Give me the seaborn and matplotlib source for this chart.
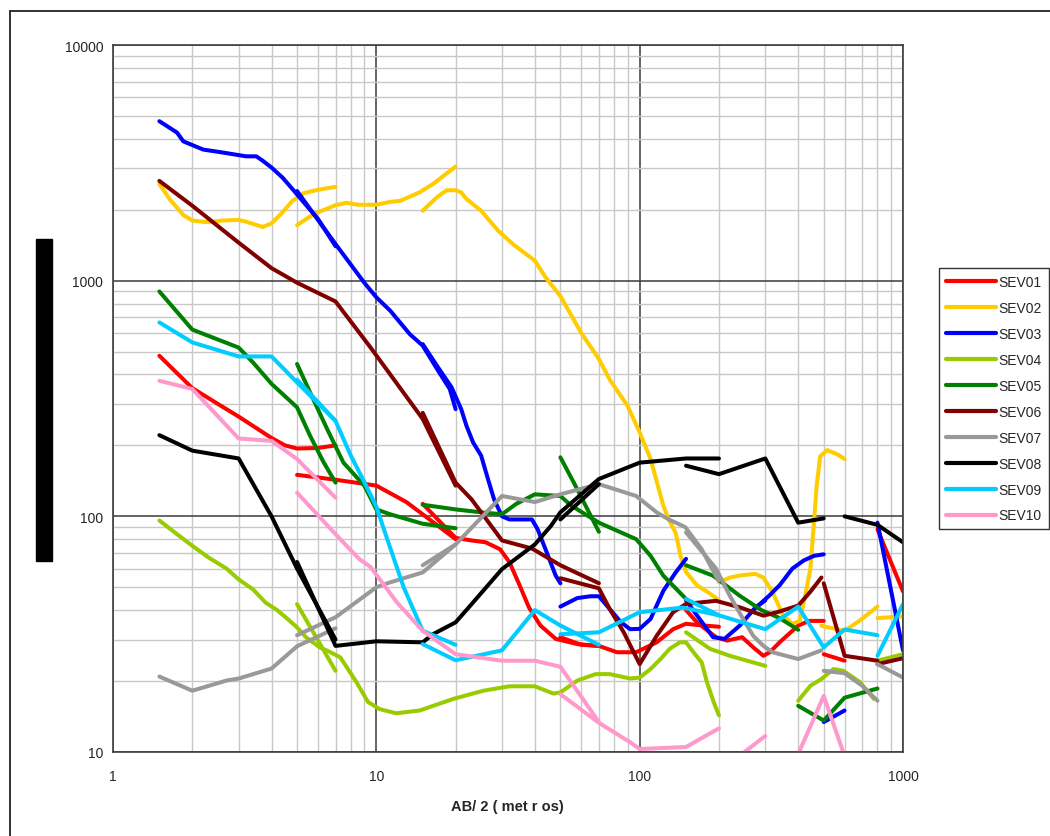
import matplotlib
matplotlib.use("Agg")
import matplotlib.pyplot as plt
from matplotlib.patches import Rectangle
from matplotlib.ticker import LogLocator, NullFormatter, FixedLocator, FixedFormatter
import seaborn as sns
import pandas as pd

# ---------------- data (AB/2 in metres, apparent resistivity) ----------------
SERIES = ["SEV01", "SEV02", "SEV03", "SEV04", "SEV05",
          "SEV06", "SEV07", "SEV08", "SEV09", "SEV10"]
COLORS = ["#FF0000", "#FFCC00", "#0000FF", "#99CC00", "#008000",
          "#800000", "#999999", "#000000", "#00CCFF", "#FF99CC"]

X_TICKS = [1, 10, 100, 1000]
X_TICKLABELS = ["1", "10", "100", "1000"]
Y_TICKS = [10, 100, 1000, 10000]
Y_TICKLABELS = ["10", "100", "1000", "10000"]
X_LABEL = "AB/ 2 ( met r os)"

SEV01 = [
    ([1.5, 2, 2.5, 3, 4, 4.5, 5, 6, 7], [480, 350, 300, 265, 215, 200, 194, 195, 200]),
    ([5, 7, 10, 13, 15, 20], [150, 143, 135, 115, 102, 80]),
    ([15, 20, 23, 26, 29.5, 32, 35, 38, 42, 48, 58, 70],
     [113, 81, 79, 77.6, 72.5, 64, 51, 41, 34.4, 30.2, 28.7, 28.2]),
    ([50, 60, 70, 82, 97, 116, 134, 150, 165, 200],
     [30.7, 28.5, 28.2, 26.5, 26.5, 29.2, 33.2, 35, 34.6, 34]),
    ([150, 165, 195, 215, 245, 270, 295, 312, 340, 400, 440, 500],
     [40, 35.5, 30.7, 29.7, 30.7, 27.8, 25.6, 26.5, 29.2, 34.4, 36, 36]),
    ([500, 600], [26, 24.4]),
    ([800, 1000], [88, 48]),
]
SEV02 = [
    ([1.5, 1.65, 1.85, 2, 2.3, 2.6, 3, 3.2, 3.7, 4, 4.4, 4.8, 5.3, 6, 7],
     [2570, 2200, 1900, 1800, 1770, 1800, 1810, 1780, 1690, 1750, 1950, 2180, 2350, 2430, 2500]),
    ([5, 5.8, 7, 7.7, 8.5, 10, 11.3, 12.3, 14.6, 16.4, 20],
     [1720, 1920, 2090, 2140, 2100, 2100, 2160, 2180, 2370, 2570, 3050]),
    ([15, 17, 18.5, 20, 21, 22, 25, 29, 33, 40, 44, 50, 60, 70, 77, 90, 100, 110,
      123, 129, 137, 143, 150, 165, 185, 200],
     [1980, 2260, 2420, 2420, 2370, 2220, 1980, 1630, 1430, 1215, 1030, 860, 600, 465,
      380, 294, 227, 175, 111, 97, 85, 68, 58, 51, 47, 44]),
    ([200, 220, 245, 275, 295, 320, 350, 380, 405, 420, 445, 460, 470, 485, 515, 565, 600],
     [52.5, 55, 56.3, 57, 55, 47.6, 38, 35, 36, 43, 60, 97, 135, 180, 191, 183, 175]),
    ([490, 600, 685, 800], [34.3, 32.7, 36.1, 41.4]),
    ([800, 1000], [37, 37.6]),
]
SEV03 = [
    ([1.5, 1.75, 1.85, 2.2, 2.6, 3.2, 3.5, 3.7, 4, 4.4, 4.8, 5.3, 6, 7],
     [4750, 4250, 3900, 3600, 3500, 3370, 3370, 3230, 3020, 2740, 2450, 2150, 1830, 1400]),
    ([5, 7, 9, 10, 11.3, 13.4, 15, 17, 19, 20],
     [2400, 1430, 980, 850, 745, 593, 530, 422, 347, 285]),
    ([15, 17, 19.3, 21, 22, 23.3, 25, 26.3, 28, 30, 32, 39, 41, 44, 48, 50],
     [538, 435, 353, 285, 242, 206, 181, 149, 118, 100, 97, 97, 88, 72, 56, 52]),
    ([50, 58, 65, 70, 77, 85, 92, 100, 110, 123, 137, 150],
     [41.4, 45, 45.8, 45.8, 40.4, 35.5, 33.2, 33.3, 36.7, 48.3, 57.8, 66]),
    ([150, 165, 190, 210, 240, 275, 300], [44, 38, 30.7, 30.2, 34.4, 41, 44]),
    ([270, 290, 310, 340, 380, 420, 460, 500], [40, 43, 46, 51, 60, 65, 68, 69]),
    ([500, 600], [13.4, 15]),
    ([800, 1000], [94, 27]),
]
SEV04 = [
    ([1.5, 1.75, 2, 2.3, 2.7, 3, 3.4, 3.8, 4.2, 4.6, 5, 5.4, 6.1, 6.7, 7.3, 8.4, 9.3, 10.3,
      11.9, 14.6, 19.6, 25.5, 32, 40, 47, 50, 58, 68, 77, 92, 100, 110, 120, 130, 142,
      150, 160, 172, 180, 191, 200],
     [96, 84, 75, 67, 60, 54, 49, 43, 40, 36.7, 33.8, 30.7, 27.8, 26.5, 25.2, 19.8, 16.3,
      15.2, 14.6, 15, 16.8, 18.2, 19, 19, 17.7, 17.9, 20.1, 21.4, 21.4, 20.5, 20.7, 22.5,
      24.8, 27.4, 29.2, 29.2, 26.5, 24, 19.8, 16.3, 14.3]),
    ([5, 7], [42.4, 22.1]),
    ([150, 185, 220, 300], [32.2, 27.4, 25.6, 23.2]),
    ([400, 445, 490, 545, 594, 686, 775], [16.5, 19.1, 20.4, 22.5, 22.1, 19.8, 16.8]),
    ([800, 1000], [24.4, 26]),
]
SEV05 = [
    ([1.5, 2, 3, 3.4, 4, 5, 5.6, 6.3, 7], [900, 620, 520, 450, 365, 290, 220, 170, 139]),
    ([5, 5.6, 6.5, 7.5, 9, 10, 11.3, 15, 20], [443, 336, 235, 169, 135, 107, 102, 93, 89]),
    ([15, 20, 25, 30, 34, 40, 50, 55, 70, 97, 110, 123, 150],
     [112, 107, 104, 102, 113, 124, 122, 111, 94, 80, 68, 56, 44.6]),
    ([50, 57, 70], [178, 135, 86]),
    ([150, 190, 240, 290, 340, 400], [62, 56, 46, 40, 37, 33]),
    ([400, 500, 600, 800], [15.7, 13.6, 17, 18.6]),
]
SEV06 = [
    ([1.5, 2, 3, 4, 5, 7, 9.5, 15, 20], [2650, 2080, 1450, 1130, 980, 816, 521, 259, 135]),
    ([15, 20, 23, 30, 39, 50, 70], [275, 139, 118, 79, 73, 62, 52]),
    ([50, 70, 77, 87, 100, 116, 134, 150, 195, 240, 295, 333, 400, 443, 490],
     [54.6, 49.5, 40.4, 32.2, 23.6, 31.1, 39.2, 42.5, 43.8, 41.1, 37.9, 39.2, 41.8, 47.6, 55]),
    ([500, 600, 800], [52, 25.6, 24.4]),
    ([800, 1000], [23.6, 25]),
]
SEV07 = [
    ([1.5, 2, 2.7, 3, 4, 5, 7], [20.9, 18.2, 20.1, 20.5, 22.6, 28.1, 33.5]),
    ([5, 7, 10, 11.3, 15, 20], [31.3, 37.3, 50, 52.5, 57.8, 76]),
    ([15, 20, 30, 40, 50, 70, 97, 116, 129, 149, 172, 199],
     [62, 76, 122, 115, 124, 137, 122, 104, 97, 90, 72.5, 53.4]),
    ([150, 195, 220, 247, 270, 295, 320, 400, 490],
     [85.5, 60, 46, 36.7, 31.1, 28.2, 26.5, 24.8, 27]),
    ([500, 600, 700, 800], [22.1, 21.6, 19.1, 16.5]),
    ([800, 1000], [23.6, 20.7]),
]
SEV08 = [
    ([1.5, 2, 3, 4, 5, 7], [221, 190, 176, 100, 60, 30]),
    ([5, 7, 10, 15], [64, 28.2, 29.5, 29.2]),
    ([15, 16.4, 20, 22.7, 30, 40, 46, 50, 58, 70, 100, 150, 200],
     [29.2, 31.6, 35.5, 41.7, 59.7, 76, 91, 104, 120, 144, 169, 176, 176]),
    ([50, 70], [97, 137]),
    ([150, 200, 300, 400, 500], [164, 151, 176, 94, 98]),
    ([600, 800, 1000], [100, 92, 77.6]),
]
SEV09 = [
    ([1.5, 2, 3, 4, 5, 7], [665, 547, 477, 477, 370, 254]),
    ([5, 7, 8, 9, 10, 11, 12.7, 15, 20], [380, 254, 181, 140, 110, 80, 50, 32.7, 28.5]),
    ([15, 20, 30, 40, 50, 70], [28.7, 24.5, 27, 40, 34.4, 28.5]),
    ([50, 70, 100, 146, 200], [31.6, 32.2, 39.2, 41, 38]),
    ([150, 200, 300, 400, 500], [44.6, 38, 33.2, 41.4, 27.8]),
    ([500, 600, 800], [27.8, 33.1, 31.3]),
    ([800, 1000], [25.6, 42.4]),
]
SEV10 = [
    ([1.5, 2, 3, 4, 5, 7], [376, 347, 214, 209, 175, 120]),
    ([5, 7, 8.6, 9.5, 12, 15, 20, 30, 40, 50, 70],
     [126, 84, 66, 61, 43, 32.7, 26, 24.4, 24.4, 23, 13.4]),
    ([50, 70, 92, 100, 150, 200], [17.6, 13.3, 11, 10.3, 10.5, 12.6]),
    ([250, 300], [10, 11.7]),
    ([400, 500, 600], [9.8, 17.3, 9.6]),
]
ALL_SEGMENTS = [SEV01, SEV02, SEV03, SEV04, SEV05, SEV06, SEV07, SEV08, SEV09, SEV10]

# ---------------- long-form table ----------------
rows = []
for name, segs in zip(SERIES, ALL_SEGMENTS):
    for k, (xs, ys) in enumerate(segs):
        for i, (xv, yv) in enumerate(zip(xs, ys)):
            rows.append({"SEV": name, "seg": f"{name}_{k}", "order": i, "AB2": xv, "rho": yv})
df = pd.DataFrame(rows)

# ---------------- figure ----------------
sns.set_style("white")
plt.rcParams["font.family"] = ["Liberation Sans", "DejaVu Sans"]

W, H = 1050, 837
fig = plt.figure(figsize=(W / 100, H / 100), dpi=100)
ax = fig.add_axes([113 / W, 1 - 753 / H, 790 / W, 707 / H])
ax.set_xscale("log")
ax.set_yscale("log")

sns.lineplot(data=df, x="AB2", y="rho", hue="SEV", hue_order=SERIES,
             palette=dict(zip(SERIES, COLORS)), units="seg", estimator=None,
             sort=False, linewidth=2.9, ax=ax,
             solid_capstyle="round", solid_joinstyle="round")

ax.set_xlim(1, 1000)
ax.set_ylim(10, 10000)

ax.xaxis.set_major_locator(FixedLocator(X_TICKS))
ax.xaxis.set_major_formatter(FixedFormatter(X_TICKLABELS))
ax.yaxis.set_major_locator(FixedLocator(Y_TICKS))
ax.yaxis.set_major_formatter(FixedFormatter(Y_TICKLABELS))
ax.xaxis.set_minor_locator(LogLocator(base=10, subs=range(2, 10), numticks=20))
ax.yaxis.set_minor_locator(LogLocator(base=10, subs=range(2, 10), numticks=20))
ax.xaxis.set_minor_formatter(NullFormatter())
ax.yaxis.set_minor_formatter(NullFormatter())

ax.set_axisbelow(True)
ax.grid(which="minor", color="#c8c8c8", linewidth=1.0)
ax.grid(which="major", color="#3a3a3a", linewidth=1.1)

ax.tick_params(axis="x", which="major", direction="out", length=4, width=1,
               color="#333333", labelsize=10, pad=8)
ax.tick_params(axis="y", which="major", direction="out", length=5, width=1,
               color="#333333", labelsize=10, pad=2)
ax.tick_params(which="minor", length=0)

for side, sp in ax.spines.items():
    sp.set_color("#404040")
    sp.set_linewidth(1.2)

ax.set_xlabel("")
ax.set_ylabel("")
fig.text(507 / W, 1 - 807 / H, X_LABEL, ha="center", va="center",
         fontsize=10.5, fontweight="bold")

# legend
sns.move_legend(ax, "upper left", bbox_to_anchor=(939 / W, 1 - 269 / H),
                bbox_transform=fig.transFigure, title=None, frameon=True,
                fontsize=10, handlelength=3.6, handletextpad=0.2,
                labelspacing=0.86, borderpad=0.5, borderaxespad=0,
                fancybox=False, framealpha=1, edgecolor="#333333")
leg = ax.get_legend()
leg.get_frame().set_linewidth(1.0)
for h in leg.legend_handles:
    h.set_linewidth(3.0)

# black bar at left (obscured axis title) and figure border
fig.add_artist(Rectangle((36 / W, 1 - 562 / H), 16 / W, 322 / H,
                         transform=fig.transFigure, color="black", zorder=5))
fig.add_artist(Rectangle((10 / W, -0.1), 2.0, (1 - 12 / H) + 0.1,
                         transform=fig.transFigure, fill=False,
                         edgecolor="#222222", linewidth=1.3))

fig.savefig("out.png", dpi=100)
